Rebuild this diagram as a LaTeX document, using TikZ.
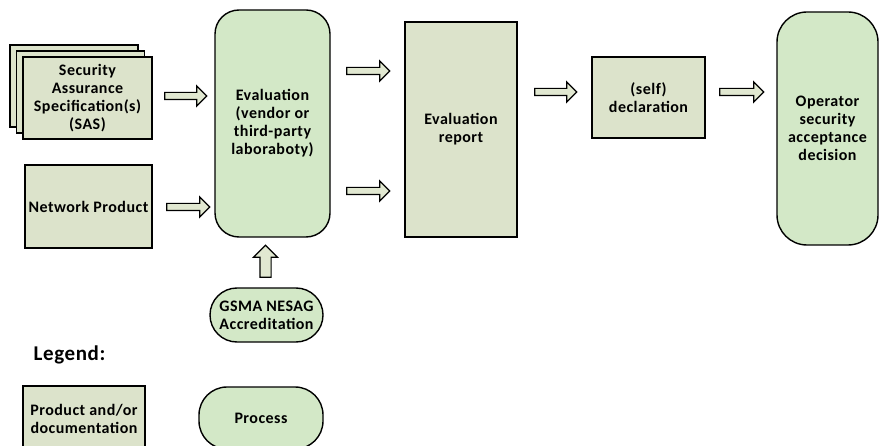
\documentclass[tikz,border=0pt]{standalone}
\usepackage{fontspec}
\setmainfont{Carlito}[LetterSpace=3]
\usetikzlibrary{positioning,shapes.arrows}

\definecolor{prodGreen}{HTML}{DCE3CB}
\definecolor{procGreen}{HTML}{D3E8C7}
\definecolor{arrowGreen}{HTML}{E1E8D1}

\begin{document}
\begin{tikzpicture}
[
	x	= 1pt,	% one unit is one pixel of the sketch
	y	= -1pt,	% rows counted downwards
	product/.style	= {shape = rectangle, draw = black, line width = 1.4pt, fill = prodGreen, align = center, inner sep = 0pt, font = \bfseries\fontsize{16}{18}\selectfont},
	process/.style	= {shape = rectangle, draw = black, line width = 1.4pt, fill = procGreen, align = center, inner sep = 0pt, font = \bfseries\fontsize{16}{18}\selectfont},
	blockarrow/.style	= {single arrow, draw = black, line width = 1.2pt, fill = arrowGreen, inner sep = 3pt, single arrow head extend = 6.5pt},
]

{
	\clip (0,0) rectangle (880,446);

	% nodes declaration
	\node (nSasBack) [product, minimum width = 128pt, minimum height = 82pt] at (74,86) {};
	\node (nSasMid) [product, minimum width = 128pt, minimum height = 82pt] at (80.5,92) {};
	\node (nSas) [product, minimum width = 129pt, minimum height = 82pt] at (87.5,98) {Security\\Assurance\\Specification(s)\\(SAS)};
	\node (nNetwork) [product, minimum width = 127pt, minimum height = 83pt] at (88.5,206.5) {Network Product};
	\node (nEval) [process, rounded corners = 24pt, minimum width = 115pt, minimum height = 227pt] at (272.5,123.5) {Evaluation\\(vendor or\\third-party\\laboraboty)};
	\node (nGsma) [process, rounded corners = 27pt, minimum width = 113pt, minimum height = 54pt] at (266.5,315) {GSMA NESAG\\Accreditation};
	\node (nReport) [product, minimum width = 112pt, minimum height = 215pt] at (461,129.5) {Evaluation\\report};
	\node (nDecl) [product, minimum width = 113pt, minimum height = 81pt] at (648.5,97.5) {(self)\\declaration};
	\node (nOperator) [process, rounded corners = 30pt, minimum width = 101pt, minimum height = 233pt] at (827.5,128.5) {Operator\\security\\acceptance\\decision};

	\node (nLegend) [font = \bfseries\fontsize{21}{24}\selectfont] at (69.5,355) {Legend:};
	\node (nLegProduct) [product, minimum width = 122pt, minimum height = 66pt] at (84,419) {Product and/or\\documentation};
	\node (nLegProcess) [process, rounded corners = 28pt, minimum width = 124pt, minimum height = 62pt] at (261,418) {Process};

	% block arrows declaration
	\node (aSasEval) [blockarrow, minimum height = 42pt] at (184,96) {};
	\node (aNetworkEval) [blockarrow, minimum height = 43pt] at (186.5,207) {};
	\node (aEvalReportOne) [blockarrow, minimum height = 43pt] at (366.5,71) {};
	\node (aEvalReportTwo) [blockarrow, minimum height = 43pt] at (366.5,191) {};
	\node (aReportDecl) [blockarrow, minimum height = 42pt] at (554,92) {};
	\node (aDeclOperator) [blockarrow, minimum height = 44pt] at (740,92) {};
	\node (aGsmaEval) [blockarrow, inner sep = 5pt, single arrow head extend = 6.5pt, minimum height = 32pt, shape border rotate = 90] at (265.5,264) {};
}

\end{tikzpicture}
\end{document}
